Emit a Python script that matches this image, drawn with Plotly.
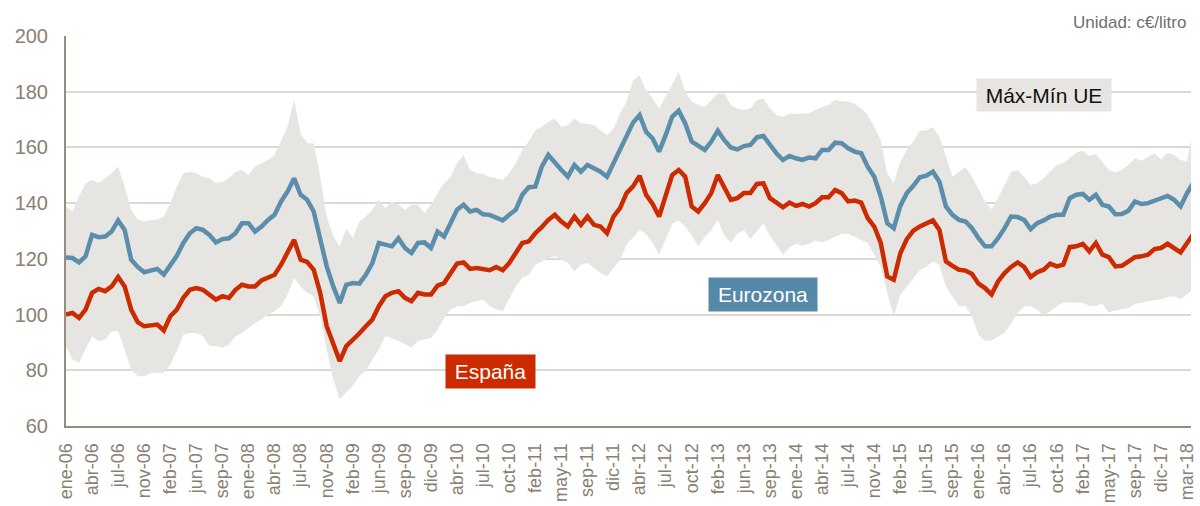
import numpy as np
import plotly.graph_objects as go

# Tick labels along the category axis (one label every ~15 weekly observations)
tick_labels = [
    "ene-06", "abr-06", "jul-06", "nov-06", "feb-07", "jun-07", "sep-07", "ene-08",
    "abr-08", "jul-08", "nov-08", "feb-09", "jun-09", "sep-09", "dic-09", "abr-10",
    "jul-10", "oct-10", "feb-11", "may-11", "sep-11", "dic-11", "abr-12", "jul-12",
    "oct-12", "feb-13", "jun-13", "sep-13", "ene-14", "abr-14", "jul-14", "nov-14",
    "feb-15", "jun-15", "sep-15", "ene-16", "abr-16", "jul-16", "oct-16", "feb-17",
    "may-17", "sep-17", "dic-17", "mar-18",
]

# Prices in c€/litro, four readings per tick interval
eurozona = [
    120.5, 120.3, 118.7, 120.9, 128.6, 127.8, 128.0, 129.8, 133.8, 130.4, 119.7, 117.1,
    115.2, 115.9, 116.4, 114.3, 117.9, 121.1, 125.7, 129.2, 131.0, 130.4, 128.6, 125.9,
    127.1, 127.4, 129.2, 132.8, 132.8, 129.8, 131.6, 134.0, 135.8, 140.6, 144.2, 148.9,
    143.0, 141.2, 137.0, 126.8, 117.3, 110.1, 104.2, 110.7,
    111.3, 111.1, 114.3, 118.5, 125.7, 125.1, 124.5, 127.4, 123.9, 122.1, 125.7, 125.9,
    123.9, 129.8, 128.0, 132.8, 137.6, 139.4, 137.0, 137.6, 136.0, 135.8, 135.0, 133.8,
    135.8, 137.6, 143.0, 145.7, 145.9, 153.1, 157.3, 154.3, 151.9, 149.5, 153.7, 151.3,
    153.7, 152.5, 151.3, 149.5, 154.3, 159.1, 163.5,
    168.9, 171.6, 165.6, 163.2, 158.5, 164.4, 171.0, 173.2, 168.6, 162.1, 160.5, 159.1,
    162.1, 166.0, 162.6, 160.0, 159.3, 160.5, 160.9, 163.6, 164.1, 160.9, 157.9, 155.5,
    156.9, 156.1, 155.5, 156.4, 156.1, 159.1, 159.1, 161.7, 161.5, 159.7, 158.5, 157.9,
    153.1, 149.5, 142.4, 132.8, 131.0,
    139.0, 143.6, 146.2, 149.3, 149.9, 151.3, 147.7, 138.8, 135.8, 134.0, 133.4, 131.0,
    127.4, 124.5, 124.5, 127.4, 131.0, 135.2, 135.0, 134.0, 130.7, 132.8, 133.8, 135.2,
    135.8, 135.8, 141.8, 143.0, 143.3, 141.2, 143.0, 139.4, 138.8, 136.0, 136.1, 137.3,
    140.6, 139.7, 140.0, 140.9, 141.4, 142.6, 141.2, 138.8, 143.6, 147.5,
]

espana = [
    100.0, 100.6, 98.8, 101.8, 107.8, 109.2, 108.4, 110.1, 113.5, 110.1, 101.8, 97.3,
    95.8, 96.1, 96.4, 94.3, 99.4, 101.8, 106.0, 108.9, 109.5, 108.9, 107.2, 105.4,
    106.6, 106.0, 108.9, 110.7, 110.1, 110.1, 112.3, 113.1, 114.3, 117.9, 122.7, 126.8,
    119.7, 118.9, 116.1, 107.8, 95.8, 89.9, 83.3, 88.7,
    90.8, 93.2, 95.8, 98.2, 103.0, 106.6, 107.8, 108.4, 106.0, 104.8, 107.8, 107.2,
    107.2, 110.4, 111.3, 115.1, 118.3, 118.7, 116.4, 116.7, 116.4, 115.9, 117.1, 115.9,
    118.5, 122.1, 125.7, 126.3, 129.2, 131.4, 134.0, 135.8, 133.4, 131.6, 135.2, 132.2,
    135.2, 132.2, 131.6, 129.2, 135.2, 138.2, 143.6,
    146.0, 149.8, 143.0, 139.7, 135.2, 142.4, 150.1, 151.9, 149.5, 138.8, 137.0, 140.0,
    143.6, 150.1, 145.3, 141.2, 141.8, 143.6, 143.6, 146.9, 147.1, 141.8, 140.2, 138.5,
    140.2, 139.0, 139.7, 138.8, 140.0, 142.1, 142.1, 144.7, 143.6, 140.6, 140.9, 140.2,
    134.6, 131.6, 125.7, 113.7, 112.5,
    122.0, 127.1, 130.1, 131.6, 132.6, 133.8, 130.4, 119.1, 117.5, 116.1, 115.8, 114.6,
    111.1, 109.5, 107.2, 111.9, 114.9, 117.1, 118.7, 117.1, 113.5, 115.2, 116.1, 118.3,
    117.3, 117.9, 124.2, 124.5, 125.4, 122.7, 125.7, 121.5, 120.6, 117.3, 117.5, 118.9,
    120.6, 120.9, 121.5, 123.5, 123.9, 125.4, 123.9, 122.3, 125.7, 129.0,
]

ue_max = [
    138.8, 137.0, 142.4, 147.1, 148.3, 147.1, 148.9, 150.7, 153.1, 145.9, 137.6, 134.2,
    133.4, 134.0, 134.0, 135.2, 140.0, 145.9, 150.7, 151.3, 150.7, 149.5, 148.9, 147.1,
    147.7, 148.9, 151.3, 151.9, 150.1, 153.1, 154.3, 155.5, 157.3, 162.1, 167.4, 177.0,
    165.0, 161.5, 161.5, 149.5, 135.2, 128.0, 124.5, 131.0,
    127.4, 133.4, 135.2, 137.6, 141.2, 138.2, 140.6, 139.4, 137.6, 139.4, 139.4, 136.4,
    139.4, 143.6, 147.1, 149.5, 154.3, 157.3, 151.9, 150.7, 150.5, 149.5, 148.9, 148.3,
    150.7, 154.3, 159.1, 162.1, 166.2, 167.4, 169.2, 170.4, 167.4, 168.0, 170.4, 168.6,
    168.6, 168.0, 166.2, 164.4, 166.8, 172.2, 176.4,
    184.1, 185.9, 180.5, 177.6, 174.0, 178.2, 182.9, 187.1, 180.0, 176.4, 175.2, 174.6,
    177.0, 179.4, 179.4, 175.2, 174.0, 173.4, 174.0, 177.0, 177.6, 174.0, 171.6, 171.0,
    172.2, 172.0, 172.2, 172.2, 173.4, 174.6, 175.2, 177.0, 176.7, 176.4, 175.8, 174.0,
    171.6, 167.4, 162.6, 150.7, 147.1,
    154.9, 159.1, 162.1, 166.0, 166.2, 167.2, 163.8, 156.7, 149.5, 151.3, 152.9, 149.5,
    145.3, 140.6, 137.8, 141.8, 146.5, 151.3, 151.9, 149.5, 146.5, 147.1, 148.9, 151.3,
    153.7, 154.3, 156.1, 158.1, 158.8, 156.9, 157.6, 154.9, 151.9, 151.0, 151.9, 153.7,
    156.1, 155.2, 156.7, 157.9, 155.7, 158.1, 157.3, 155.5, 154.9, 168.0,
]

ue_min = [
    88.7, 83.9, 82.7, 87.5, 92.2, 90.5, 91.0, 94.0, 94.0, 87.5, 80.3, 77.9,
    77.9, 79.1, 79.1, 79.1, 82.1, 86.9, 92.8, 93.4, 93.4, 92.2, 88.7, 88.7,
    88.1, 89.3, 92.2, 93.4, 95.2, 97.0, 98.2, 100.0, 101.2, 103.0, 107.2, 113.1,
    110.1, 107.8, 106.6, 99.4, 87.5, 76.7, 69.6, 72.0,
    74.5, 77.9, 79.7, 83.9, 87.5, 92.2, 91.6, 90.5, 89.3, 88.1, 90.5, 91.0,
    91.6, 94.6, 98.8, 101.8, 103.0, 103.0, 104.2, 104.8, 105.4, 103.0, 101.8, 101.2,
    105.4, 110.1, 113.1, 114.3, 117.9, 119.1, 120.3, 120.9, 119.7, 118.5, 115.5, 117.9,
    118.5, 116.7, 114.9, 113.7, 116.7, 119.7, 125.1,
    127.8, 130.4, 129.0, 125.7, 121.5, 127.4, 132.6, 133.8, 131.6, 128.3, 124.7, 127.8,
    130.4, 134.0, 128.3, 125.9, 129.0, 130.4, 127.1, 129.8, 132.8, 128.3, 125.1, 121.5,
    124.2, 125.4, 124.7, 125.4, 126.6, 125.9, 126.8, 127.8, 129.0, 129.0, 128.0, 126.8,
    125.7, 121.5, 117.3, 107.8, 99.4,
    107.2, 110.1, 113.1, 115.9, 117.1, 119.1, 117.9, 110.1, 106.6, 103.0, 103.0, 99.4,
    92.8, 90.5, 90.8, 92.2, 93.4, 96.8, 100.6, 103.0, 103.0, 101.8, 99.6, 101.2,
    103.0, 104.4, 104.2, 104.2, 104.2, 103.2, 103.2, 103.9, 100.8, 101.5, 102.0, 102.4,
    103.9, 104.2, 104.8, 105.1, 105.4, 106.3, 106.6, 105.6, 107.2, 109.5,
]

# Position on the category axis: four samples per labelled tick
pos = np.arange(len(espana)) / 4.0

FONT = "Liberation Sans, Arial, sans-serif"
AXIS_COLOR = "#978d80"
TEXT_COLOR = "#8a8072"
GRID_COLOR = "#dcd8d3"
BAND_COLOR = "#e7e5e2"
RED = "#cc2a00"
BLUE = "#5b8eab"

fig = go.Figure()

# EU max-min band
fig.add_trace(go.Scatter(x=pos, y=ue_max, mode="lines", line=dict(width=0),
                         hoverinfo="skip", showlegend=False))
fig.add_trace(go.Scatter(x=pos, y=ue_min, mode="lines", line=dict(width=0),
                         fill="tonexty", fillcolor=BAND_COLOR,
                         hoverinfo="skip", showlegend=False))

fig.add_trace(go.Scatter(x=pos, y=eurozona, mode="lines", name="Eurozona",
                         line=dict(color=BLUE, width=4.5), showlegend=False))
fig.add_trace(go.Scatter(x=pos, y=espana, mode="lines", name="España",
                         line=dict(color=RED, width=4.5), showlegend=False))

fig.update_layout(
    width=1200, height=506,
    margin=dict(l=66, r=3, t=36, b=79),
    paper_bgcolor="white", plot_bgcolor="white",
    font=dict(family=FONT, color=TEXT_COLOR),
    xaxis=dict(
        range=[0, 43.15],
        tickmode="array",
        tickvals=list(range(len(tick_labels))),
        ticktext=tick_labels,
        tickangle=-90,
        tickfont=dict(size=18, color=TEXT_COLOR),
        ticklabelstandoff=8,
        ticklabeloverflow="allow",
        showgrid=False, zeroline=False,
        showline=True, linecolor=AXIS_COLOR, linewidth=2,
        ticks="",
    ),
    yaxis=dict(
        range=[60, 200],
        tickvals=[60, 80, 100, 120, 140, 160, 180, 200],
        tickfont=dict(size=20, color=TEXT_COLOR),
        ticklabelstandoff=12,
        showgrid=True, gridcolor=GRID_COLOR, gridwidth=2,
        zeroline=False,
        showline=True, linecolor=AXIS_COLOR, linewidth=2,
        ticks="",
    ),
)

def tag(text, x, y, bg, fg, w, h):
    fig.add_annotation(x=x, y=y, xref="x", yref="y", text=text, showarrow=False,
                       font=dict(size=21, color=fg, family=FONT),
                       bgcolor=bg, width=w, height=h, borderpad=0,
                       xanchor="center", yanchor="middle", align="center")

tag("España", 16.28, 79.4, RED, "white", 89, 33)
tag("Eurozona", 26.73, 107.3, "#5589a7", "white", 108, 33)
tag("Máx-Mín UE", 37.5, 178.7, BAND_COLOR, "#111111", 134, 32)

fig.add_annotation(text="Unidad: c€/litro", xref="paper", yref="paper",
                   x=1, y=1, xanchor="right", yanchor="bottom", yshift=2, xshift=-3,
                   showarrow=False, font=dict(size=17, color="#6f6f6f", family=FONT))

fig.write_html("out.html")
